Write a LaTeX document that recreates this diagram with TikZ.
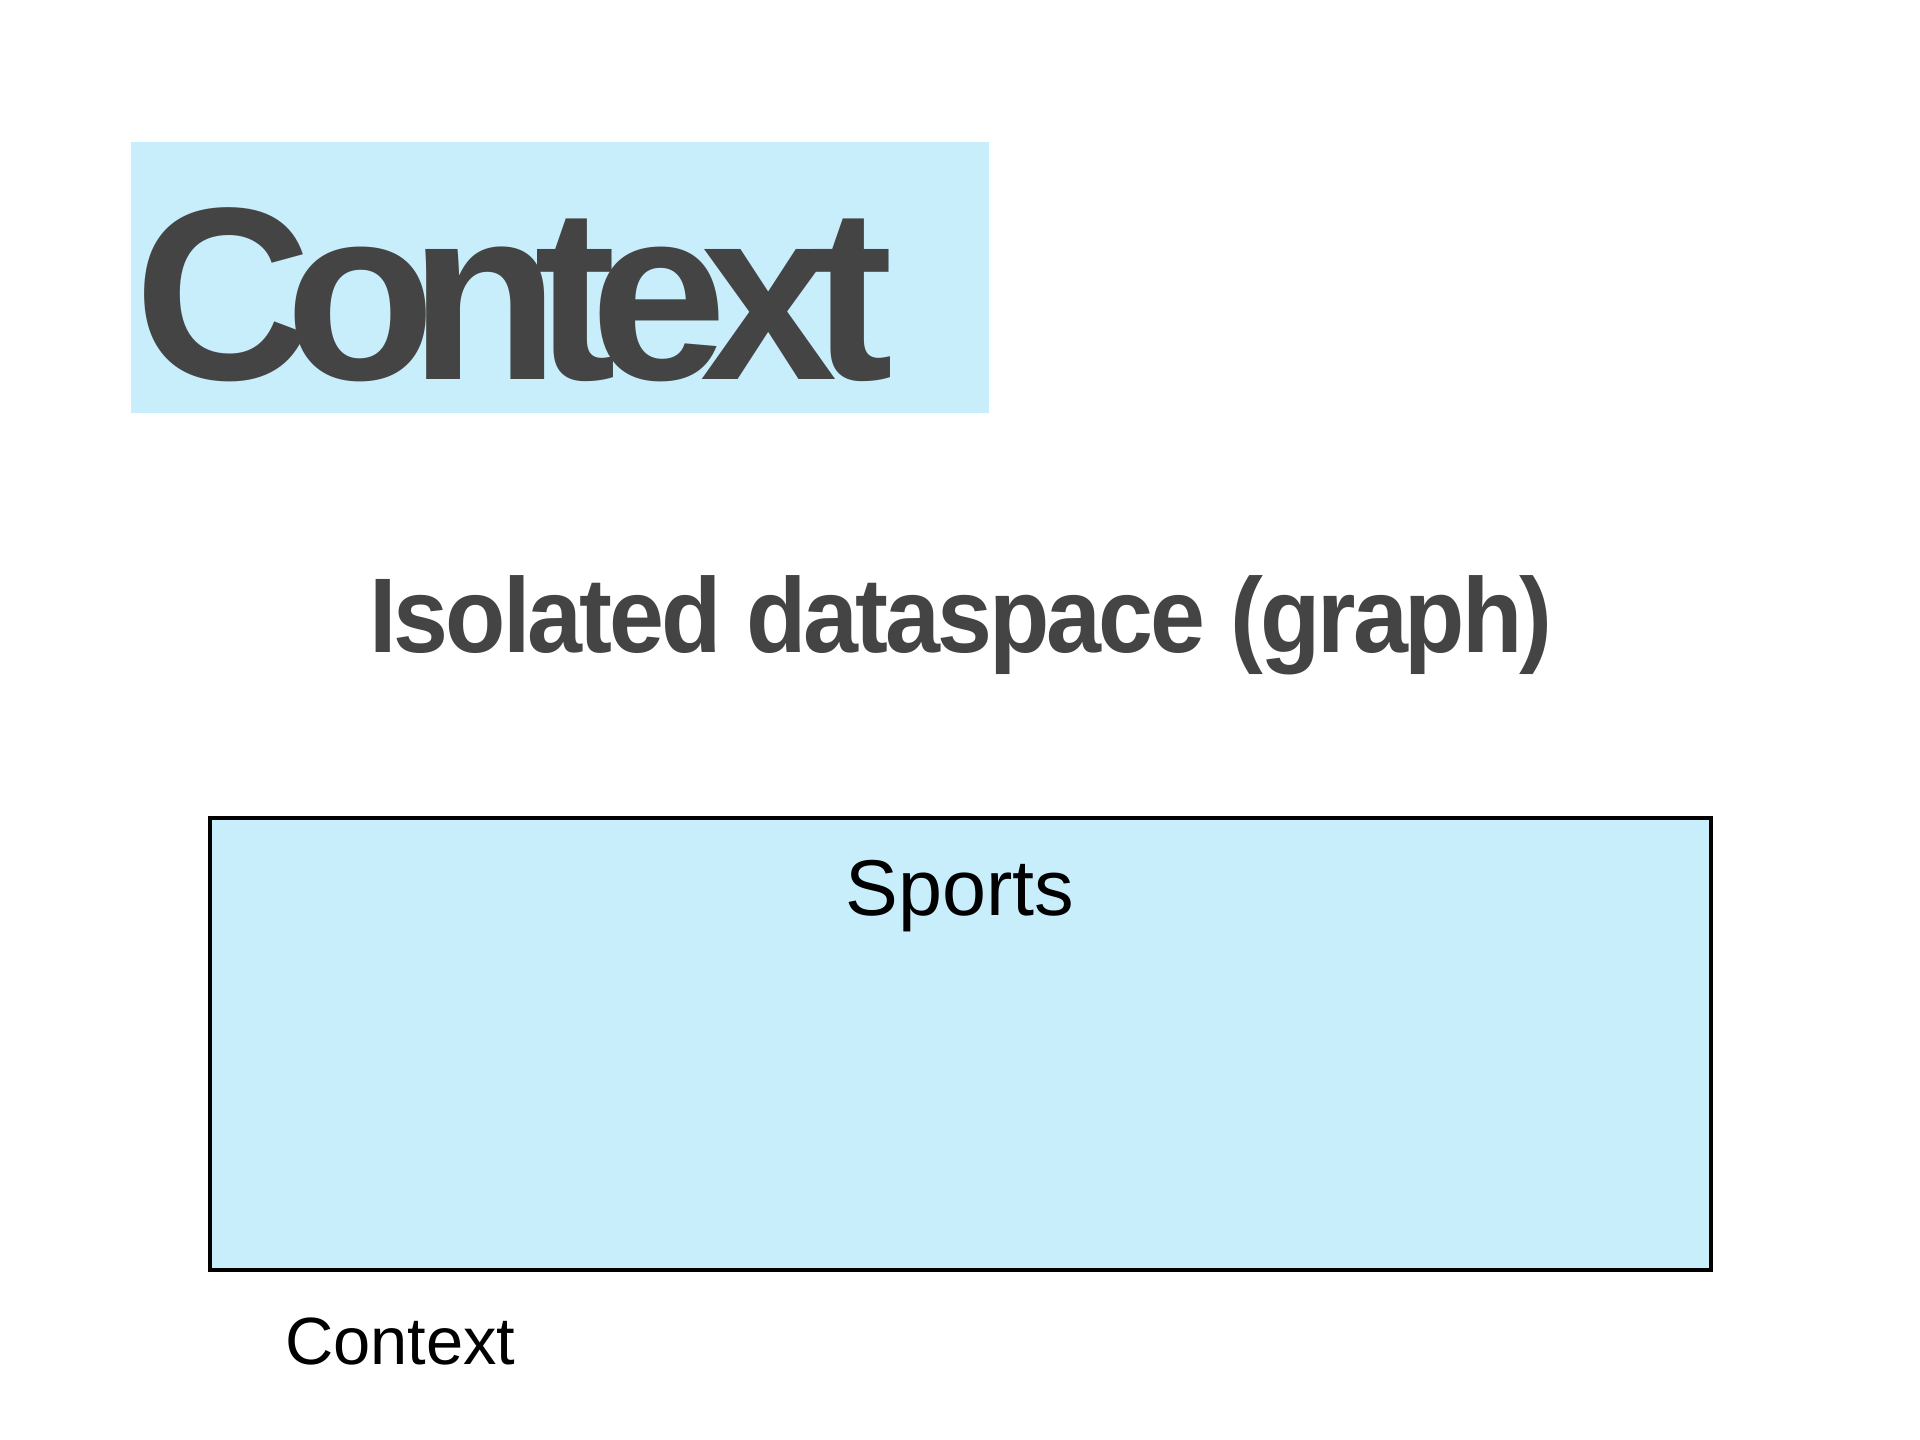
\documentclass[tikz,border=0pt]{standalone}
\usepackage{fontspec}
\setmainfont{Liberation Sans}
\newfontfamily\titlefont[LetterSpace=-10.6]{Liberation Sans Bold}
\newfontfamily\subfont[LetterSpace=-3]{Liberation Sans Bold}
\definecolor{paleblue}{HTML}{C8EEFC}
\definecolor{darkgrey}{HTML}{444444}
\begin{document}
\begin{tikzpicture}[x=0.01cm,y=-0.01cm,
  panel/.style={fill=paleblue,draw=none},
  framed/.style={fill=paleblue,draw=black,line width=1.1pt},
  lbl/.style={inner sep=0pt,outer sep=0pt}]
\useasboundingbox (0,0) rectangle (1920,1440);
\fill[white] (0,0) rectangle (1920,1440);
% title panel
\path[panel] (131,142) rectangle (989,413);
\node[lbl,anchor=base west,text=darkgrey] (title) at (134,380)
  {\fontsize{70pt}{80pt}\titlefont Context};
% subtitle
\node[lbl,anchor=base,text=darkgrey] (sub) at (961,653)
  {\scalebox{0.93}[1]{\fontsize{30.2pt}{36pt}\subfont Isolated dataspace (graph)}};
% sports box
\path[framed] (209.7,817.7) rectangle (1711,1270);
\node[lbl,anchor=base] (sports) at (960,916)
  {\fontsize{22.5pt}{27pt}\selectfont Sports};
% bottom label
\node[lbl,anchor=base west] (ctx) at (285,1365)
  {\fontsize{19pt}{23pt}\selectfont Context};
\end{tikzpicture}
\end{document}
